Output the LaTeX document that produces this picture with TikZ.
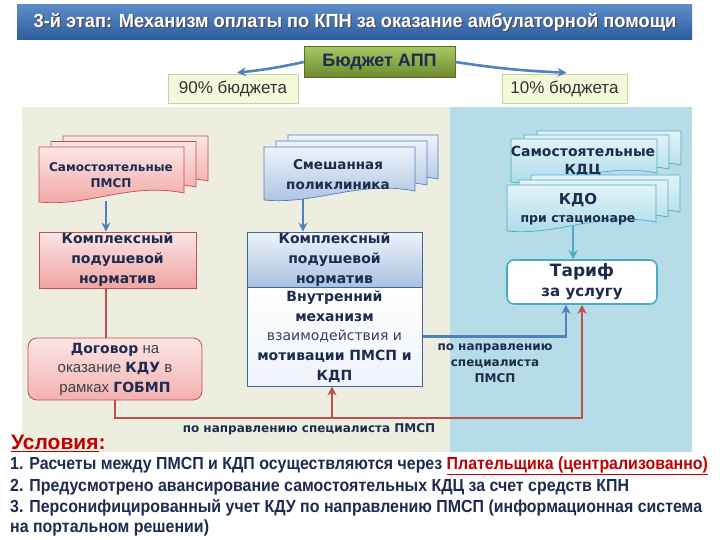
\documentclass[tikz,border=0pt]{standalone}
\usepackage{fontspec}
\setmainfont{Liberation Sans}
\newfontfamily\tah{DejaVu Sans}
\newfontfamily\nar{Liberation Sans}[FakeStretch=0.91]
\newfontfamily\ttl{Liberation Sans}[FakeStretch=0.96]
\usetikzlibrary{arrows.meta,calc}
\definecolor{navy}{HTML}{1C2B4E}
\definecolor{tblue1}{HTML}{5C8CC8}
\definecolor{tblue2}{HTML}{2D5C9F}
\definecolor{beige}{HTML}{EDEEDF}
\definecolor{lblue}{HTML}{B6DCE7}
\definecolor{pinkA}{HTML}{FCE6E6}
\definecolor{pinkB}{HTML}{F0A3A2}
\definecolor{redB}{HTML}{C0504D}
\definecolor{bluA}{HTML}{EEF3FA}
\definecolor{bluB}{HTML}{A9C1E2}
\definecolor{bluD}{HTML}{4F81BD}
\definecolor{cyA}{HTML}{E2F3F8}
\definecolor{cyB}{HTML}{A9DAE9}
\definecolor{teal}{HTML}{4BACC6}
\definecolor{darkred}{HTML}{C00000}
\definecolor{yel}{HTML}{F3FADC}
\definecolor{yelB}{HTML}{C4D79B}
\definecolor{grnA}{HTML}{A8C764}
\definecolor{grnB}{HTML}{6C8A2E}
\newcommand\mydoc[5]{%
  \pgfmathsetmacro\dxa{#1+0.62*(#3-#1)}%
  \pgfmathsetmacro\dxb{#1+0.35*(#3-#1)}%
  \path[#5] (#1,#2) -- (#3,#2) -- (#3,#4-9) .. controls (\dxa,#4-20) and (\dxb,#4+5) .. (#1,#4) -- cycle;}
\tikzset{
  pinkdoc/.style={top color=pinkA,bottom color=pinkB,draw=redB,line width=0.7pt},
  bluedoc/.style={top color=bluA,bottom color=bluB,draw=bluD,line width=0.7pt},
  cyandoc/.style={top color=cyA,bottom color=cyB,draw=teal,line width=0.7pt},
  doctext/.style={align=center,text=navy,font=\tah\bfseries\fontsize{12}{16}\selectfont},
  barr/.style={draw=bluD,line width=2.2pt,-{Stealth[length=9pt,width=9pt]}},
  tarr/.style={draw=teal,line width=2pt,-{Stealth[length=9pt,width=9pt]}},
  rline/.style={draw=redB,line width=2pt},
  rarr/.style={draw=redB,line width=2pt,-{Stealth[length=9pt,width=9pt]}},
  lbl/.style={align=center,text=navy,font=\tah\bfseries\fontsize{12}{16}\selectfont},
  bline/.style={anchor=west,inner sep=0pt,text=navy,font=\nar\bfseries\fontsize{17.5}{20}\selectfont},
}
\begin{document}
\begin{tikzpicture}[x=1pt,y=-1pt]
\useasboundingbox (0,0) rectangle (720,540);
\fill[white] (0,0) rectangle (720,540);
% title
\shade[top color=tblue1,bottom color=tblue2] (17,5) rectangle (692,40);
\node[text=black!70,font=\ttl\bfseries\fontsize{19}{21}\selectfont] at (356.2,23.6) {3-й этап: Механизм оплаты по КПН за оказание амбулаторной помощи};
\node (title) [text=white,font=\ttl\bfseries\fontsize{19}{21}\selectfont] at (355,22.5) {3-й этап: Механизм оплаты по КПН за оказание амбулаторной помощи};
% panels
\fill[beige] (22,107) rectangle (450,452);
\fill[lblue] (450,107) rectangle (692,452);
% budget
\node (bud) [top color=grnA,bottom color=grnB,draw=grnB!80!black,line width=0.4pt,minimum width=151pt,minimum height=31pt,inner sep=0pt,text=navy,font=\bfseries\fontsize{18}{20}\selectfont] at (379.5,62) {Бюджет АПП};
\node (p90) [fill=yel,draw=yelB,line width=0.6pt,minimum width=130pt,minimum height=29pt,inner sep=0pt,text=black!80,font=\fontsize{17}{20}\selectfont] at (233,88.5) {90\% бюджета};
\node (p10) [fill=yel,draw=yelB,line width=0.6pt,minimum width=125pt,minimum height=29pt,inner sep=0pt,text=black!80,font=\fontsize{17}{20}\selectfont] at (564.5,88.5) {10\% бюджета};
\draw[barr,line width=2.6pt] (bud.west) to[bend left=3] ($(p90.north)+(4,-1)$);
\draw[barr,line width=2.6pt] (bud.east) to[bend right=3] ($(p10.north)+(2,-1)$);
% left docs
\mydoc{63}{136}{208}{190}{pinkdoc}
\mydoc{51}{141.5}{196}{196}{pinkdoc}
\mydoc{39}{147}{184}{202}{pinkdoc}
\node (docL) [doctext] at (111,175) {Самостоятельные\\ПМСП};
% middle docs
\mydoc{288}{135}{438}{188}{bluedoc}
\mydoc{276}{141}{427}{194}{bluedoc}
\mydoc{264}{147}{415}{200}{bluedoc}
\node (docM) [doctext,font=\tah\bfseries\fontsize{13.5}{20}\selectfont] at (338,175) {Смешанная\\поликлиника};
% right docs KDC
\mydoc{537}{131}{681}{174}{cyandoc}
\mydoc{524}{135}{669}{178}{cyandoc}
\mydoc{511}{139}{657}{182}{cyandoc}
\node (docR) [doctext,font=\tah\bfseries\fontsize{14}{18}\selectfont] at (583,161) {Самостоятельные\\КДЦ};
\mydoc{531}{175}{680}{221}{cyandoc}
\mydoc{519}{180}{668}{226}{cyandoc}
\mydoc{507}{185}{656}{231}{cyandoc}
\node (docK) [doctext,font=\tah\bfseries\fontsize{12.5}{18}\selectfont] at (578,209) {{\fontsize{15}{18}\selectfont КДО}\\при стационаре};
% boxes
\node (kpl) [top color=pinkA,bottom color=pinkB,draw=redB,line width=0.8pt,minimum width=157pt,minimum height=56pt,inner sep=0pt,doctext,font=\tah\bfseries\fontsize{14}{20}\selectfont] at (117.5,260) {Комплексный\\подушевой\\норматив};
\node (kpm) [top color=bluA,bottom color=bluB,draw=bluD!80!black,line width=0.8pt,minimum width=175pt,minimum height=55pt,inner sep=0pt,doctext,font=\tah\bfseries\fontsize{14}{20}\selectfont] at (334.5,259.5) {Комплексный\\подушевой\\норматив};
\node (vnutr) [top color=white,bottom color=bluA,draw=bluD!80!black,line width=1pt,minimum width=175pt,minimum height=99pt,inner sep=0pt,doctext,font=\tah\bfseries\fontsize{14}{19.7}\selectfont] at (334.5,336.5) {Внутренний\\механизм\\{\mdseries\color{navy!90}взаимодействия и}\\мотивации ПМСП и\\КДП};
\node (dog) [rounded corners=9pt,top color=pinkA,bottom color=pinkB!85!white,draw=redB,line width=0.8pt,minimum width=174pt,minimum height=62pt,inner sep=0pt,align=center,text=black!75,font=\fontsize{15}{19.5}\selectfont] at (115,369) {{\tah\bfseries\fontsize{14}{19.5}\selectfont\color{navy}Договор} на\\оказание {\tah\bfseries\fontsize{14}{19.5}\selectfont\color{navy}КДУ} в\\рамках {\tah\bfseries\fontsize{14}{19.5}\selectfont\color{navy}ГОБМП}};
\node (tarif) [rounded corners=7pt,fill=white,draw=teal,line width=1.6pt,minimum width=150pt,minimum height=44pt,inner sep=0pt,doctext,font=\tah\bfseries\fontsize{15}{20}\selectfont] at (582,282) {{\fontsize{17}{20}\selectfont Тариф}\\за услугу};
% connectors
\coordinate (docLb) at (106,201);
\coordinate (docMb) at (303,199);
\coordinate (docKb) at (573,226);
\coordinate (rc) at (582,418);
\draw[barr] (docLb) -- (docLb |- kpl.north);
\draw[barr] (docMb) -- (docMb |- kpm.north);
\draw[tarr] (docKb) -- (docKb |- tarif.north);
\draw[rline] (kpl.south -| docLb) -- (dog.north -| docLb);
\draw[rarr] (dog.south) |- (rc) -- (tarif.south);
\draw[rarr] ($(vnutr.south |- rc)+(-2.5,0)$) -- ($(vnutr.south)+(-2.5,0)$);
\draw[barr] (vnutr.east) -| ($(tarif.south)+(-16,0)$);
% labels
\node (lab1) [lbl] at (309,429) {по направлению специалиста ПМСП};
\node (lab2) [lbl] at (495,363) {по направлению\\специалиста\\ПМСП};
% conditions
\node (usl) [anchor=west,inner sep=0pt,text=darkred,font=\bfseries\fontsize{21}{23}\selectfont] at (11,443) {\underline{Условия}:};
\node (l1) [bline] at (10,466) {1. Расчеты между ПМСП и КДП осуществляются через {\color{darkred}\underline{Плательщика (централизованно)}}};
\node (l2) [bline] at (10,487) {2. Предусмотрено авансирование самостоятельных КДЦ за счет средств КПН};
\node (l3) [bline] at (10,508) {3. Персонифицированный учет КДУ по направлению ПМСП (информационная система};
\node (l4) [bline] at (10,528) {на портальном решении)};
\end{tikzpicture}
\end{document}
